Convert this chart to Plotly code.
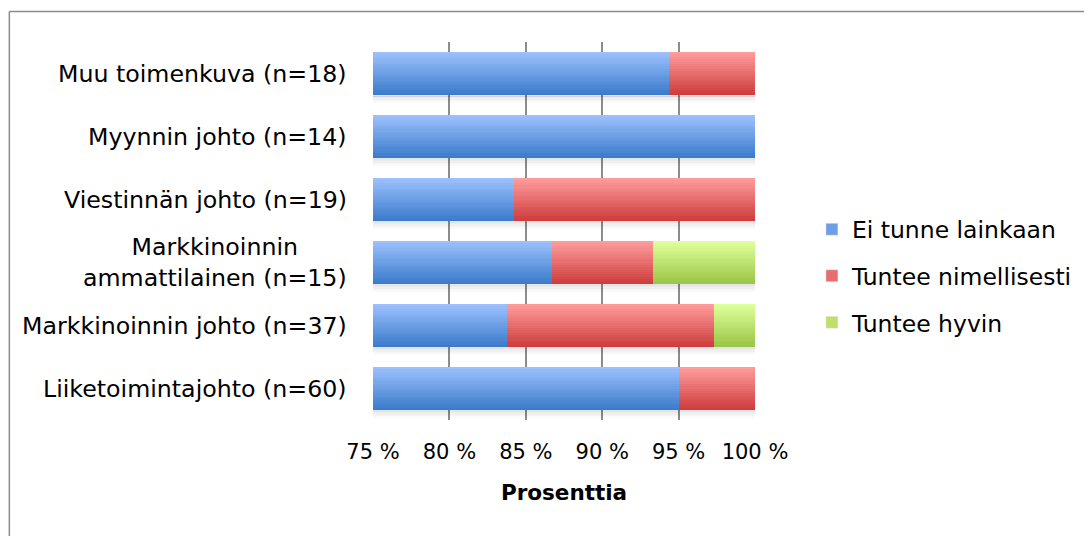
import plotly.graph_objects as go

categories = ['Liiketoimintajohto (n=60)', 'Markkinoinnin johto (n=37)',
              'Markkinoinnin<br>ammattilainen (n=15)', 'Viestinnän johto (n=19)',
              'Myynnin johto (n=14)', 'Muu toimenkuva (n=18)']
ei_tunne = [95.0, 83.8, 86.7, 84.2, 100.0, 94.4]
nimellisesti = [5.0, 13.5, 6.6, 15.8, 0.0, 5.6]
hyvin = [0.0, 2.7, 6.7, 0.0, 0.0, 0.0]
series_names = ['Ei tunne lainkaan', 'Tuntee nimellisesti', 'Tuntee hyvin']
tick_vals = [75, 80, 85, 90, 95, 100]
tick_text = ['75 %', '80 %', '85 %', '90 %', '95 %', '100 %']

FONT = 'DejaVu Sans'
BAR_W = 0.68
BANDS = 18

# (top colour, bottom colour) for the Excel-like gradient
grads = [((155, 192, 252), (60, 124, 204)),
         ((255, 155, 155), (206, 62, 62)),
         ((222, 255, 155), (155, 198, 72))]
mids = ['#6f9ee6', '#e86d6d', '#bfe06a']


def mix(c0, c1, t):
    return 'rgb({},{},{})'.format(*[round(a + (b - a) * t) for a, b in zip(c0, c1)])


fig = go.Figure()

# soft shadow under each bar
totals = [a + b + c for a, b, c in zip(ei_tunne, nimellisesti, hyvin)]
for k in range(5):
    fig.add_trace(go.Bar(
        y=categories, x=totals, base=[0] * len(totals), orientation='h',
        width=0.025, offset=-BAR_W / 2 - 0.025 * (k + 1),
        marker=dict(color='rgba(0,0,0,{:.3f})'.format(0.10 * (1 - k / 5)), line_width=0),
        showlegend=False, hoverinfo='skip'))

bases = [[0] * len(categories),
         ei_tunne,
         [a + b for a, b in zip(ei_tunne, nimellisesti)]]
for vals, base, (top, bot) in zip([ei_tunne, nimellisesti, hyvin], bases, grads):
    step = BAR_W / BANDS
    for k in range(BANDS):
        t = k / (BANDS - 1)
        fig.add_trace(go.Bar(
            y=categories, x=vals, base=base, orientation='h',
            width=step * 1.05, offset=-BAR_W / 2 + k * step,
            marker=dict(color=mix(bot, top, t), line_width=0),
            showlegend=False, hoverinfo='skip'))

# legend entries
for name, col in zip(series_names, mids):
    fig.add_trace(go.Bar(y=[None], x=[None], orientation='h', name=name,
                         marker=dict(color=col), legendgroup=name))

# category labels (centre-aligned multi-line like the original)
for cat in categories:
    fig.add_annotation(x=0, xref='paper', y=cat, yref='y', text=cat,
                       xanchor='right', xshift=-24, align='center', showarrow=False,
                       font=dict(family=FONT, size=23.7, color='black'))

# outer frame (top and left edges only visible)
fig.add_shape(type='line', xref='paper', yref='paper', x0=-0.952, x1=1.9, y0=1.081, y1=1.081,
              line=dict(color='#8c8c8c', width=1.5))
fig.add_shape(type='line', xref='paper', yref='paper', x0=-0.952, x1=-0.952, y0=1.081, y1=-0.4,
              line=dict(color='#8c8c8c', width=1.5))

fig.update_layout(
    width=1084, height=528,
    margin=dict(l=365, r=337, t=34, b=116),
    barmode='overlay', bargap=0,
    paper_bgcolor='white', plot_bgcolor='white',
    font=dict(family=FONT, size=20, color='black'),
    legend=dict(x=1.149, y=0.381, xanchor='left', yanchor='middle',
                traceorder='grouped', tracegroupgap=13, borderwidth=0,
                font=dict(family=FONT, size=23.5, color='black')),
    xaxis=dict(range=[75, 100], tickvals=tick_vals, ticktext=tick_text,
               showgrid=True, gridcolor='#8c8c8c', gridwidth=2, zeroline=False,
               ticks='', ticklabelstandoff=17, tickfont=dict(family=FONT, size=21),
               title=dict(text='<b>Prosenttia</b>', standoff=21,
                          font=dict(family=FONT, size=21.5, color='black'))),
    yaxis=dict(range=[-0.5, 5.5], showticklabels=False, showgrid=False, zeroline=False,
               categoryorder='array', categoryarray=categories),
)

fig.write_html('out.html')
